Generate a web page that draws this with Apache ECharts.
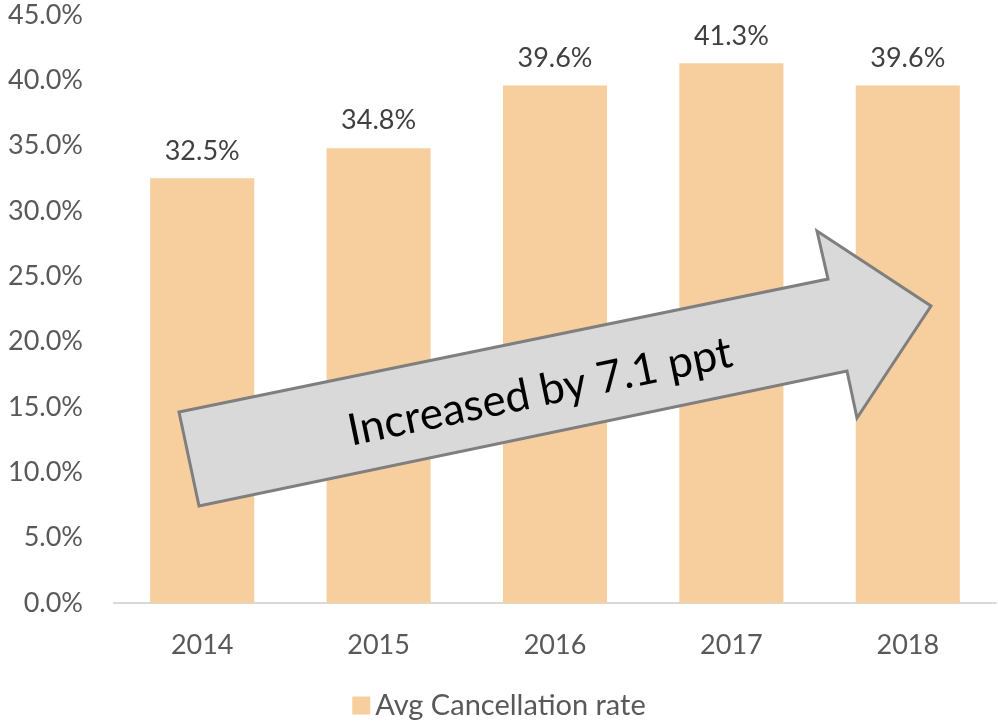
<!DOCTYPE html>
<html><head><meta charset="utf-8">
<script src="https://cdn.jsdelivr.net/npm/echarts@6/dist/echarts.min.js"></script>
<style>html,body{margin:0;padding:0;background:#fff}#c{width:998px;height:721px}</style>
</head><body><div id="c"></div>
<script>
const categories = ['2014', '2015', '2016', '2017', '2018'];
const cancellationRate = [32.5, 34.8, 39.6, 41.3, 39.6];
const seriesName = 'Avg Cancellation rate';
const annotationText = 'Increased by 7.1 ppt';

const FONT = 'Lato';
const chart = echarts.init(document.getElementById('c'));
chart.setOption({
  animation: false,
  grid: { left: 114, right: 2, top: 15, bottom: 118 },
  legend: {
    data: [seriesName], bottom: -4, left: 'center',
    itemWidth: 18, itemHeight: 18, itemGap: 8,
    icon: 'rect',
    textStyle: { fontFamily: FONT, fontSize: 29, color: '#595959' }
  },
  xAxis: {
    type: 'category', data: categories,
    axisLine: { lineStyle: { color: '#D9D9D9', width: 2 } },
    axisTick: { show: false },
    axisLabel: { fontFamily: FONT, fontSize: 27, color: '#595959', margin: 29 }
  },
  yAxis: {
    type: 'value', min: 0, max: 45, interval: 5,
    splitLine: { show: false },
    axisLine: { show: false }, axisTick: { show: false },
    axisLabel: { fontFamily: FONT, fontSize: 27, color: '#595959', margin: 31,
      formatter: v => v.toFixed(1) + '%' }
  },
  series: [{
    name: seriesName, type: 'bar', data: cancellationRate,
    barWidth: '59%',
    itemStyle: { color: '#F7CE9D' },
    label: { show: true, position: 'top', distance: 14,
      fontFamily: FONT, fontSize: 27, color: '#404040',
      formatter: p => p.value.toFixed(1) + '%' }
  }],
  graphic: [
    {
      type: 'polygon', z: 100,
      shape: { points: [[179,412],[828,279],[817,231],[931,306],[857,418],[847,371],[199,506]] },
      style: { fill: '#D9D9D9', stroke: '#7F7F7F', lineWidth: 3 }
    },
    {
      type: 'text', z: 101, x: 540, y: 392, rotation: 0.205,
      style: { text: annotationText, fontFamily: FONT, fontSize: 44, fill: '#000',
        align: 'center', verticalAlign: 'middle' }
    }
  ]
});
</script></body></html>
